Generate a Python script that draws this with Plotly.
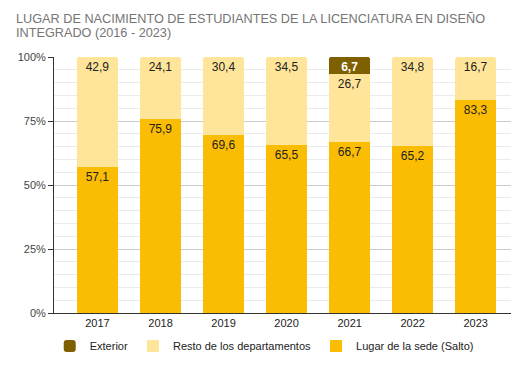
import plotly.graph_objects as go

years = ["2017", "2018", "2019", "2020", "2021", "2022", "2023"]
lugar = [57.1, 75.9, 69.6, 65.5, 66.7, 65.2, 83.3]
resto = [42.9, 24.1, 30.4, 34.5, 26.7, 34.8, 16.7]
exterior = [0, 0, 0, 0, 6.7, 0, 0]

title_lines = ["LUGAR DE NACIMIENTO DE ESTUDIANTES DE LA LICENCIATURA EN DISEÑO",
               "INTEGRADO (2016 - 2023)"]

FONT = "Liberation Sans, Arial, sans-serif"
C_LUGAR = "#fbbc04"
C_RESTO = "#ffe599"
C_EXT = "#7f6000"


def fmt(v):
    return f"{v:.1f}".replace(".", ",")


fig = go.Figure()
common = dict(textposition="inside", insidetextanchor="end", textangle=0,
              constraintext="none", width=0.65)
fig.add_bar(x=years, y=lugar, name="Lugar de la sede (Salto)",
            marker=dict(color=C_LUGAR, line=dict(width=0)),
            text=[fmt(v) for v in lugar],
            textfont=dict(family=FONT, size=12, color="#222222"),
            hoverinfo="skip", **common)
fig.add_bar(x=years, y=resto, name="Resto de los departamentos",
            marker=dict(color=C_RESTO, line=dict(width=0)),
            text=[fmt(v) for v in resto],
            textfont=dict(family=FONT, size=12, color="#222222"),
            hoverinfo="skip", **common)
fig.add_bar(x=years, y=exterior, name="Exterior",
            marker=dict(color=C_EXT, line=dict(width=0), cornerradius=3),
            text=[fmt(v) if v > 0 else "" for v in exterior],
            textfont=dict(family=FONT, size=12, color="#ffffff", weight="bold"),
            hoverinfo="skip", **common)

annotations = []
for yr, e in zip(years, exterior):
    if e == 0:
        annotations.append(dict(x=yr, y=100, xref="x", yref="y", text="0",
                                showarrow=False, yshift=17, yanchor="middle",
                                font=dict(family=FONT, size=12, color=C_EXT)))

annotations.append(dict(x=-0.088, y=1.150, xref="paper", yref="paper",
                        xanchor="left", yanchor="middle", showarrow=False,
                        text=title_lines[0],
                        font=dict(family=FONT, size=12.7, color="#757575")))
annotations.append(dict(x=-0.088, y=1.094, xref="paper", yref="paper",
                        xanchor="left", yanchor="middle", showarrow=False,
                        text=title_lines[1],
                        font=dict(family=FONT, size=12.7, color="#757575")))

fig.update_layout(
    width=524, height=358,
    margin=dict(l=46, r=21, t=49, b=53, autoexpand=False),
    paper_bgcolor="white", plot_bgcolor="white",
    barmode="stack", bargap=0.35,
    showlegend=True,
    legend=dict(orientation="h", x=0.46, xanchor="center",
                y=-0.129, yanchor="middle",
                traceorder="reversed",
                font=dict(family=FONT, size=11, color="#222222"),
                itemwidth=30),
    font=dict(family=FONT, size=11, color="#444444"),
    annotations=annotations,
)
fig.update_xaxes(range=[-0.69, 6.56], showgrid=False, showline=True,
                 linecolor="#333333", linewidth=1, ticks="",
                 tickfont=dict(family=FONT, size=11, color="#222222"))
fig.update_yaxes(range=[0, 100], tickvals=[0, 25, 50, 75, 100],
                 ticktext=["0%", "25%", "50%", "75%", "100%"],
                 showgrid=True, gridcolor="#cccccc", gridwidth=1,
                 minor=dict(dtick=5, showgrid=True, gridcolor="#ebebeb",
                            gridwidth=1, ticks=""),
                 showline=True, linecolor="#333333", linewidth=1,
                 ticks="outside", ticklen=5, tickcolor="#333333",
                 zeroline=False,
                 tickfont=dict(family=FONT, size=11, color="#444444"))

fig.write_html("out.html")
